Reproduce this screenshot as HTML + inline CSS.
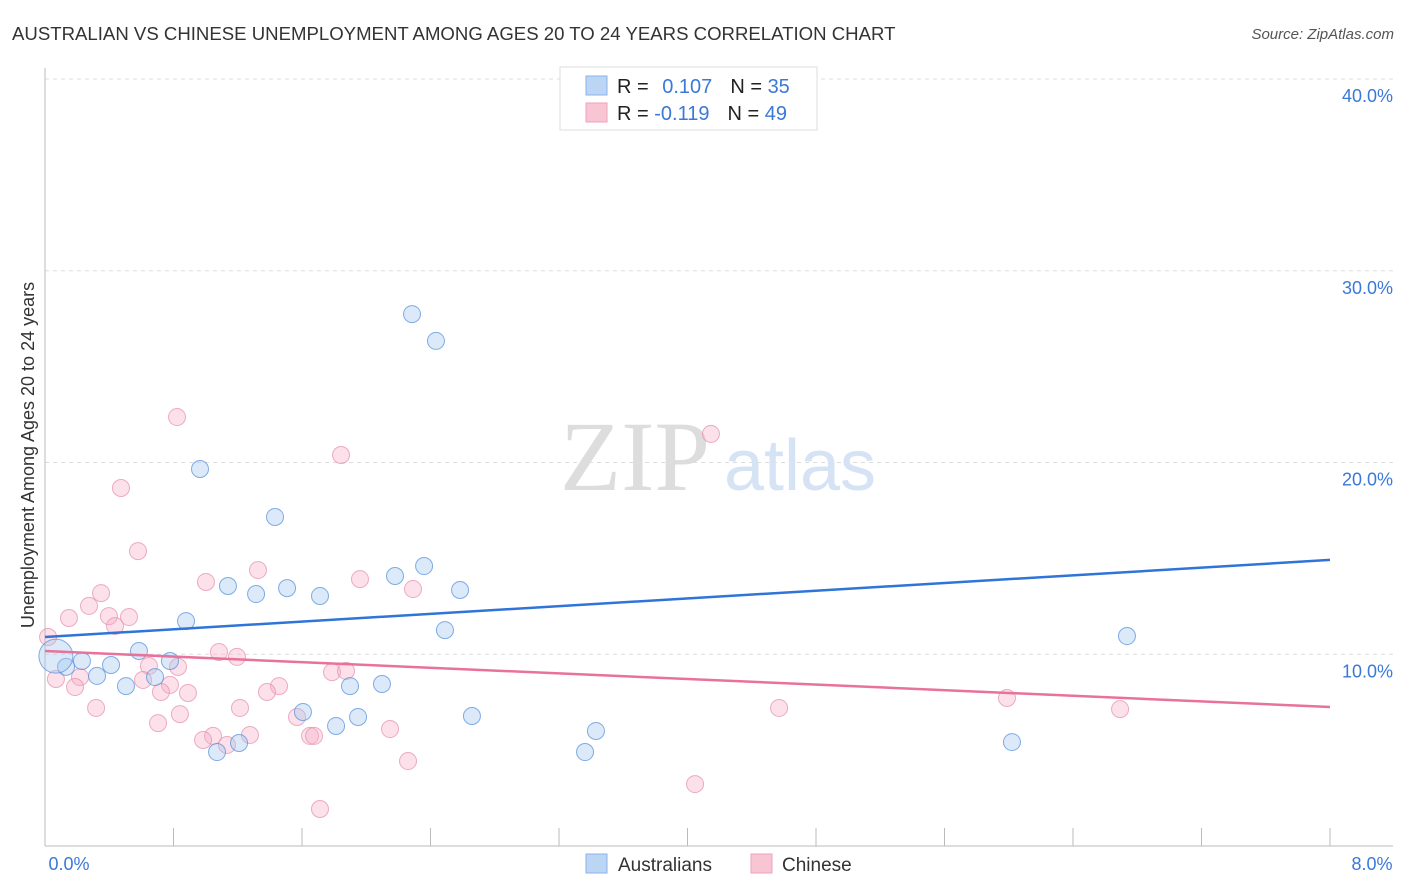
<!DOCTYPE html>
<html><head><meta charset="utf-8"><style>
body{margin:0;background:#fff;font-family:"Liberation Sans",sans-serif}
svg{display:block}
</style></head><body>
<svg id="chart" width="1406" height="892" xmlns="http://www.w3.org/2000/svg">
<text x="12" y="40" font-size="18.6" fill="#333">AUSTRALIAN VS CHINESE UNEMPLOYMENT AMONG AGES 20 TO 24 YEARS CORRELATION CHART</text>
<text x="1394" y="39" font-size="15" fill="#555" font-style="italic" text-anchor="end">Source: ZipAtlas.com</text>
<g id="grid"></g>
<g><text x="635" y="490" font-size="100" fill="#ddd" font-family="Liberation Serif,serif" text-anchor="middle">ZIP</text><text x="800" y="490" font-size="72" fill="#d5e3f5" text-anchor="middle">atlas</text></g>
<line x1="45" y1="68" x2="45" y2="846" stroke="#bbb"/>
<line x1="45" y1="846" x2="1393" y2="846" stroke="#bbb"/>
<g id="ticks"></g>
<g id="pts"></g>
<g id="lines"></g>
<text x="69" y="870" font-size="18" fill="#3b78d8" text-anchor="middle">0.0%</text>
<text x="1372" y="870" font-size="18" fill="#3b78d8" text-anchor="middle">8.0%</text>
<text transform="translate(34,455) rotate(-90)" font-size="18" fill="#333" text-anchor="middle">Unemployment Among Ages 20 to 24 years</text>
<g>
<rect x="560" y="67" width="257" height="63" fill="#fff" stroke="#ddd"/>
<rect x="586" y="76" width="21" height="19" fill="#bcd5f5" stroke="#8ab4e8"/>
<rect x="586" y="103" width="21" height="19" fill="#f8c5d5" stroke="#eea3bb"/>
<text x="617" y="93" font-size="20" fill="#222">R = <tspan fill="#3b78d8" dx="8">0.107</tspan><tspan dx="18">N = </tspan><tspan fill="#3b78d8">35</tspan></text>
<text x="617" y="120" font-size="20" fill="#222">R = <tspan fill="#3b78d8">-0.119</tspan><tspan dx="18">N = </tspan><tspan fill="#3b78d8">49</tspan></text>
</g>
<g>
<rect x="586" y="854" width="21" height="19" fill="#bcd5f5" stroke="#8ab4e8"/>
<text x="618" y="871" font-size="19" fill="#333">Australians</text>
<rect x="751" y="854" width="21" height="19" fill="#f8c5d5" stroke="#eea3bb"/>
<text x="782" y="871" font-size="19" fill="#333">Chinese</text>
</g>
</svg>
<script>
const yTicks=[10,20,30,40];
const yTickLabels=["10.0%","20.0%","30.0%","40.0%"];
const ausX=[2.285,2.434,0.965,1.432,2.360,2.179,2.584,1.139,1.314,1.507,1.712,0.878,2.490,0.585,0.230,0.411,0.131,0.778,0.324,0.685,0.504,1.899,2.098,1.606,1.949,1.812,2.658,3.430,1.208,1.071,3.362,6.736,6.020,0.068];
const ausY=[27.74,26.34,19.66,17.16,14.60,14.08,13.35,13.56,13.14,13.45,13.04,11.73,11.26,10.17,9.65,9.44,9.34,9.65,8.87,8.81,8.34,8.34,8.45,6.99,6.73,6.26,6.78,6.00,5.37,4.90,4.90,10.95,5.42,9.90];
const ausSize=[1,1,1,1,1,1,1,1,1,1,1,1,1,1,1,1,1,1,1,1,1,1,1,1,1,1,1,1,1,1,1,1,1,2];
const chnX=[0.822,1.843,4.146,0.473,0.579,1.326,1.002,1.961,2.291,0.349,0.274,0.149,0.398,0.523,0.436,0.019,1.083,1.195,0.647,0.828,1.787,1.874,0.068,0.218,0.610,0.778,0.187,0.722,0.890,1.457,1.382,0.318,1.214,0.840,0.704,1.569,2.148,1.046,1.276,0.984,1.133,1.650,1.675,2.260,1.712,4.047,4.570,5.989,6.693];
const chnY=[22.37,20.39,21.49,18.67,15.38,14.39,13.77,13.92,13.40,13.19,12.52,11.89,11.99,11.94,11.47,10.90,10.12,9.86,9.39,9.34,9.07,9.13,8.71,8.81,8.66,8.40,8.29,8.03,7.98,8.34,8.03,7.20,7.20,6.88,6.41,6.73,6.10,5.74,5.79,5.53,5.27,5.74,5.74,4.43,1.93,3.23,7.20,7.72,7.14];
const ausTrend=[10.90,14.92];
const chnTrend=[10.17,7.25];
const xDomain=[0,8];
const NS="http://www.w3.org/2000/svg";
const X=v=>45+(v-xDomain[0])/(xDomain[1]-xDomain[0])*1285;
const Y=v=>846-v*19.175;
function mk(tag,attrs,parent){const e=document.createElementNS(NS,tag);for(const k in attrs)e.setAttribute(k,attrs[k]);parent.appendChild(e);return e;}
const grid=document.getElementById('grid');
yTicks.forEach((t,i)=>{
  const l=mk('line',{x1:45,x2:1393,y1:Y(t),y2:Y(t),stroke:'#ddd','stroke-dasharray':'4,4'},grid);
  
  
  const tx=mk('text',{x:1393,y:Y(t)+23,'font-size':18,fill:'#3b78d8','text-anchor':'end'},grid);
  tx.textContent=yTickLabels[i];
  
  
});
const ticks=document.getElementById('ticks');
for(let i=1;i<=10;i++){const v=i*0.8;const l=mk('line',{x1:X(v),x2:X(v),y1:828,y2:846,stroke:'#bbb'},ticks);
  
  }
const pts=document.getElementById('pts');
chnX.forEach((x,i)=>{const c=mk('circle',{cx:X(x),cy:Y(chnY[i]),r:8.5,fill:'rgba(245,170,195,0.35)',stroke:'rgba(230,140,170,0.7)','stroke-width':1},pts);
  
  });
ausX.forEach((x,i)=>{const c=mk('circle',{cx:X(x),cy:Y(ausY[i]),r:8.5*ausSize[i],fill:'rgba(165,200,240,0.4)',stroke:'rgba(80,140,220,0.7)','stroke-width':1},pts);
  
  });
const lines=document.getElementById('lines');
const lb=mk('line',{x1:X(0),y1:Y(ausTrend[0]),x2:X(8),y2:Y(ausTrend[1]),stroke:'#2f74d8','stroke-width':2.5},lines);


const lp=mk('line',{x1:X(0),y1:Y(chnTrend[0]),x2:X(8),y2:Y(chnTrend[1]),stroke:'#e8729a','stroke-width':2.5},lines);


</script>
</body></html>
